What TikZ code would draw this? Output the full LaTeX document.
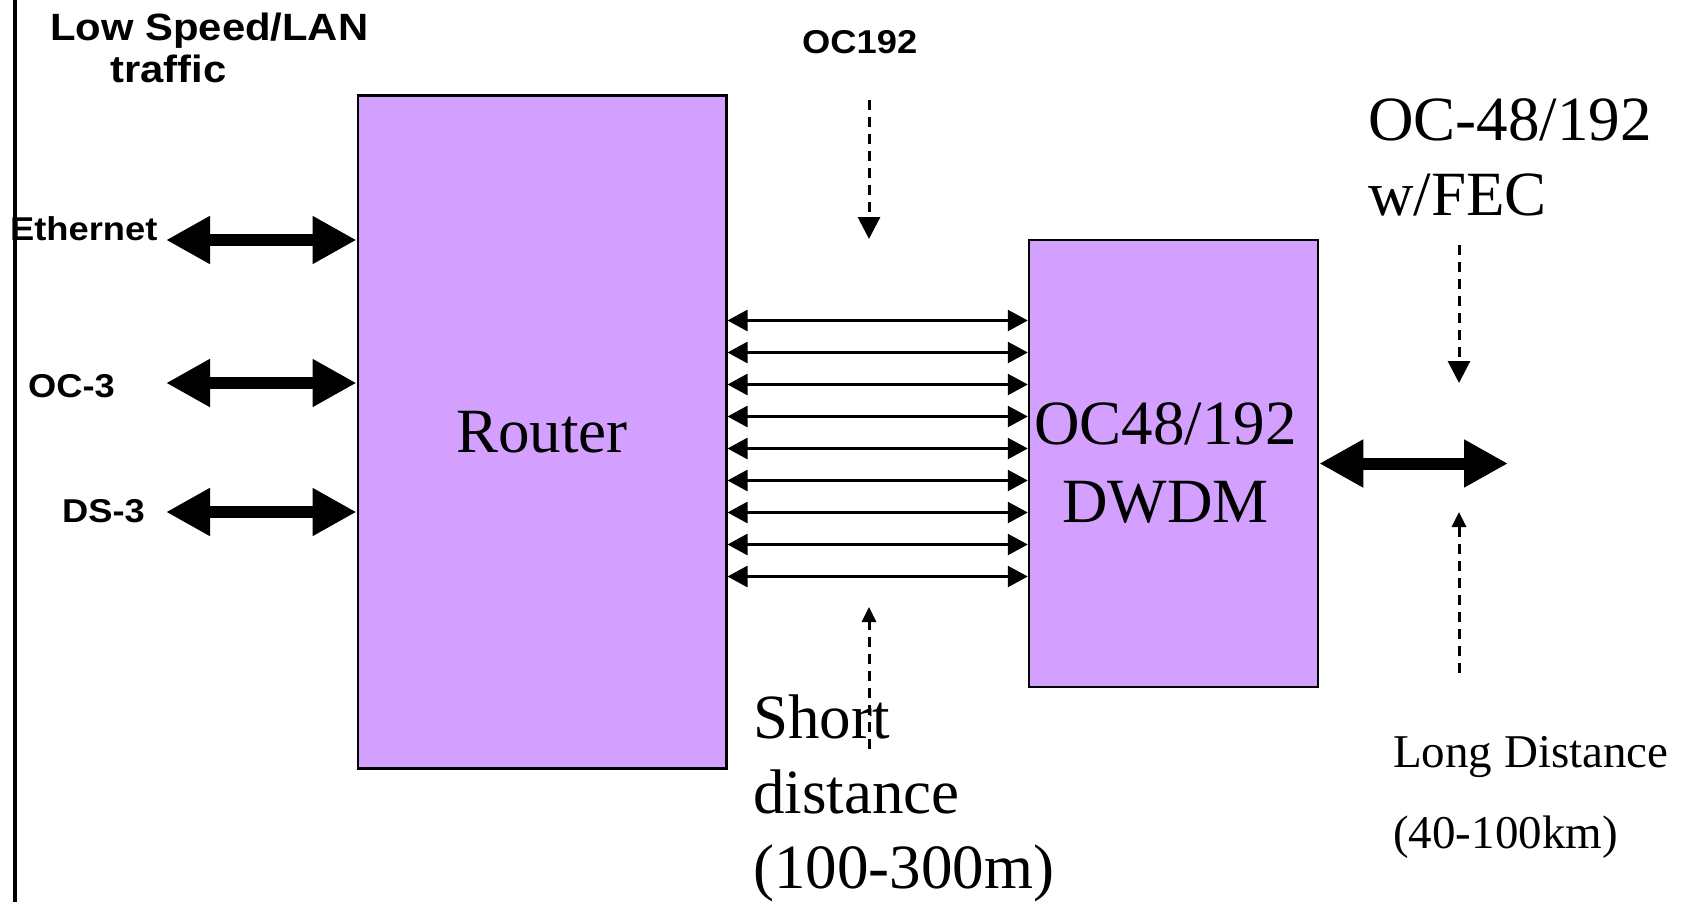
\documentclass[tikz,border=0pt]{standalone}
\usepackage{fontspec}
\setmainfont{Liberation Serif}
\newfontfamily\lblfont{Liberation Sans}[FakeStretch=1.1]
\usetikzlibrary{arrows.meta}
\definecolor{boxpurple}{RGB}{212,160,255}
\tikzset{
  block/.style={draw=black, line width=2.5bp, fill=boxpurple, inner sep=0pt, align=center,
    font=\fontsize{63bp}{75bp}\selectfont},
  lbl/.style={font=\lblfont\bfseries\fontsize{33bp}{40bp}\selectfont, inner sep=0pt, anchor=base west},
  titlelbl/.style={font=\lblfont\bfseries\fontsize{38bp}{42bp}\selectfont, inner sep=0pt, anchor=base west, align=left},
  bigtxt/.style={font=\fontsize{63bp}{75bp}\selectfont, inner sep=0pt, anchor=base west, align=left},
  midtxt/.style={font=\fontsize{47bp}{81bp}\selectfont, inner sep=0pt, anchor=base west, align=left},
  bigarrow/.style={line width=12bp, {Triangle[length=44bp,width=45bp]}-{Triangle[length=44bp,width=45bp]}},
  thinarrow/.style={line width=2.7bp, {Triangle[length=20bp,width=21bp]}-{Triangle[length=20bp,width=21bp]}},
  dasharrow/.style={line width=3bp, dash pattern=on 10bp off 7bp, -{Triangle[length=22bp,width=22bp]}},
  smalldasharrow/.style={line width=3bp, dash pattern=on 10bp off 7bp, -{Triangle[length=15bp,width=14bp]}},
}
\begin{document}
\begin{tikzpicture}[x=1bp,y=-1bp]
\useasboundingbox (0,0) rectangle (1684,902);
% left border line
\draw[line width=4bp] (15,0) -- (15,902);

% blocks
\node[block, minimum width=368.5bp, minimum height=672.5bp] (router) at (542,432) {Router};
\node[block, minimum width=289bp, minimum height=447bp] (dwdm) at (1173.5,463.5)
  {OC48/192\hspace*{16bp}\\[3bp]DWDM\hspace*{16bp}};

% labels (base anchor = baseline of the last line)
\node[titlelbl] (title) at (50,82) {Low Speed/LAN\\\hspace*{60bp}traffic};
\node[lbl] (eth) at (10,240) {Ethernet};
\node[lbl] (oc3) at (28,397) {OC-3};
\node[lbl] (ds3) at (62,522) {DS-3};
\node[lbl] (oc192) at (802,53) {OC192};
\node[bigtxt] (fec) at (1368,215) {OC-48/192\\w/FEC};
\node[bigtxt] (short) at (753,888) {Short\\distance\\(100-300m)};
\node[midtxt] (long) at (1393,848) {Long Distance\\(40-100km)};

% low speed connections
\coordinate (ethL) at (166,240);
\coordinate (oc3L) at (166,383);
\coordinate (ds3L) at (166,512);
\draw[bigarrow] (ethL) -- (ethL -| router.west);
\draw[bigarrow] (oc3L) -- (oc3L -| router.west);
\draw[bigarrow] (ds3L) -- (ds3L -| router.west);

% short distance links
\foreach \y in {320.5,352.5,384.5,416.5,448.5,480.5,512.5,544.5,576.5}{
  \draw[thinarrow] (router.east |- 0,\y) -- (dwdm.west |- 0,\y);
}

% long distance link
\coordinate (longR) at (1508,463.5);
\draw[bigarrow] (dwdm.east) -- (longR);

% dashed pointers
\coordinate (p1s) at (869,100);
\coordinate (p1e) at (869,239);
\coordinate (p2s) at (869,749);
\coordinate (p2e) at (869,607);
\coordinate (p3s) at (1459,245);
\coordinate (p3e) at (1459,383);
\coordinate (p4s) at (1459,673);
\coordinate (p4e) at (1459,512);
\draw[dasharrow] (p1s) -- (p1e);
\draw[smalldasharrow] (p2s) -- (p2e);
\draw[dasharrow] (p3s) -- (p3e);
\draw[smalldasharrow] (p4s) -- (p4e);
\end{tikzpicture}
\end{document}
